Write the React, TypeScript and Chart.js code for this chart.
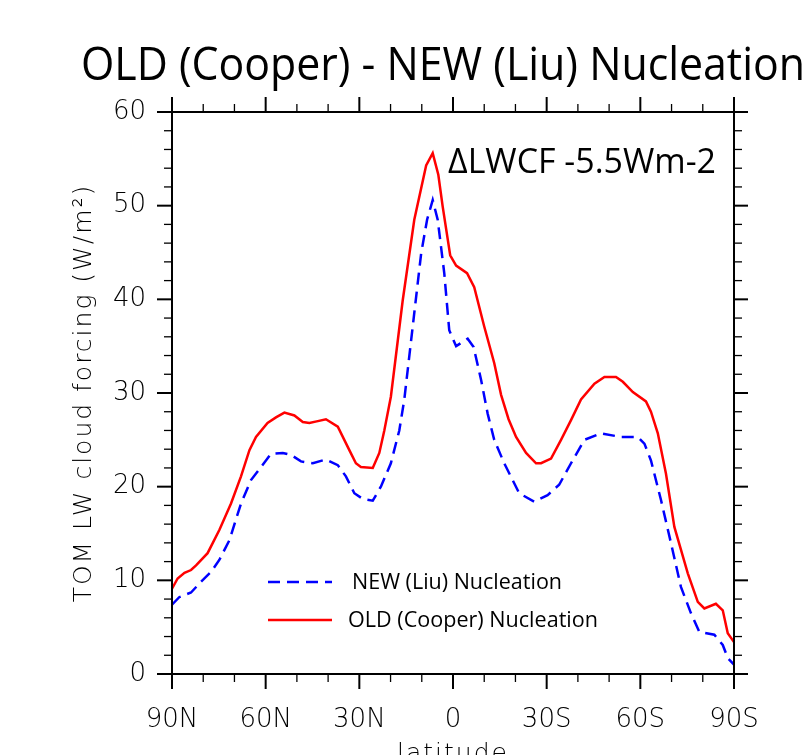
import { useEffect, useRef } from 'react';
import { Chart, registerables } from 'chart.js';

Chart.register(...registerables);

const titleText = 'OLD (Cooper) - NEW (Liu) Nucleation';
const annotationText = 'ΔLWCF -5.5Wm-2';
const yAxisTitle = 'TOM LW cloud forcing (W/m²)';
const xAxisTitle = 'latitude';
const newName = 'NEW (Liu) Nucleation';
const oldName = 'OLD (Cooper) Nucleation';

const xTickValues = [90, 60, 30, 0, -30, -60, -90];
const xTickLabels = ['90N', '60N', '30N', '0', '30S', '60S', '90S'];
const yTickValues = [0, 10, 20, 30, 40, 50, 60];

const oldLat = [90, 88.2, 86, 83.9, 82.3, 78.6, 74.8, 71.1, 67.9, 65.2, 63.1, 59.4, 56.7, 54.0, 50.8, 48.1, 46.0, 43.3, 40.7, 36.9, 33.2, 31.1, 29.5, 25.7, 23.6, 22.0, 19.9, 16.1, 12.4, 8.6, 6.5, 4.7, 3.3, 0.9, -1.0, -4.5, -6.8, -10.0, -13.2, -15.4, -17.8, -20.2, -23.4, -26.6, -28.2, -31.4, -34.6, -37.8, -41.0, -45.3, -48.5, -52.2, -54.4, -57.6, -61.8, -63.4, -65.6, -68.2, -70.9, -75.2, -78.4, -80.5, -84.2, -86.4, -88.0, -90];
const oldVal = [9.1, 10.2, 10.8, 11.1, 11.6, 12.9, 15.4, 18.2, 21.1, 23.9, 25.3, 26.8, 27.4, 27.9, 27.6, 26.9, 26.8, 27.0, 27.2, 26.4, 23.9, 22.5, 22.1, 22.0, 23.6, 26.0, 29.6, 39.9, 48.5, 54.3, 55.6, 53.3, 49.9, 44.7, 43.6, 42.8, 41.3, 37.1, 33.2, 29.8, 27.2, 25.3, 23.6, 22.5, 22.5, 23.0, 25.0, 27.1, 29.3, 31.0, 31.7, 31.7, 31.2, 30.1, 29.1, 28.0, 25.7, 21.4, 15.7, 10.75, 7.7, 7.0, 7.5, 6.8, 4.35, 3.4];

const newLat = [90, 87.7, 83.9, 80.7, 77.5, 74.8, 71.6, 67.9, 64.7, 61.5, 58.3, 54.5, 51.9, 48.7, 44.9, 40.7, 36.9, 34.3, 31.6, 28.9, 25.7, 23.1, 19.9, 17.2, 15.6, 12.9, 10.2, 8.3, 6.5, 4.9, 2.8, 1.2, -1.0, -4.7, -6.6, -9.0, -11.1, -13.2, -16.4, -21.2, -26.0, -30.3, -34.0, -37.8, -42.1, -47.4, -53.8, -59.2, -61.3, -63.4, -66.6, -69.8, -73.0, -76.2, -78.9, -83.7, -86.4, -88.0, -90];
const newVal = [7.4, 8.2, 8.7, 9.85, 10.9, 12.2, 14.3, 18.2, 20.7, 22.1, 23.5, 23.6, 23.4, 22.7, 22.5, 22.9, 22.3, 21.1, 19.3, 18.7, 18.5, 20.0, 22.5, 26.0, 29.3, 37.1, 44.9, 48.5, 50.6, 48.5, 42.8, 36.7, 35.0, 35.8, 34.9, 31.4, 27.8, 25.0, 22.5, 19.3, 18.4, 19.1, 20.2, 22.5, 25.0, 25.7, 25.3, 25.3, 24.6, 22.8, 18.6, 14.0, 9.3, 6.5, 4.5, 4.2, 3.1, 1.7, 1.0];

const TICK_FAMILY = '"DejaVu Sans"';
const TEXT_FAMILY = '"Open Sans"';

const framePlugin = {
  id: 'frameAndText',
  afterDraw(chart: any) {
    const { ctx, chartArea: a, scales } = chart;
    const xs = scales.x;
    const ys = scales.y;
    const line = (x1: number, y1: number, x2: number, y2: number) => {
      ctx.beginPath();
      ctx.moveTo(x1, y1);
      ctx.lineTo(x2, y2);
      ctx.stroke();
    };
    ctx.save();
    ctx.strokeStyle = '#000';
    ctx.lineCap = 'butt';
    // minor ticks
    ctx.lineWidth = 1.3;
    for (let v = -90; v <= 90; v += 10) {
      if (v % 30 === 0) continue;
      const px = xs.getPixelForValue(v);
      line(px, a.bottom, px, a.bottom + 8);
      line(px, a.top, px, a.top - 8);
    }
    for (let v = 0; v <= 60; v += 2) {
      if (v % 10 === 0) continue;
      const py = ys.getPixelForValue(v);
      line(a.left - 8, py, a.left, py);
      line(a.right, py, a.right + 8, py);
    }
    // major ticks
    ctx.lineWidth = 2;
    for (const v of xTickValues) {
      const px = xs.getPixelForValue(v);
      line(px, a.bottom, px, a.bottom + 15);
      line(px, a.top, px, a.top - 15);
    }
    for (const v of yTickValues) {
      const py = ys.getPixelForValue(v);
      line(a.left - 15, py, a.left, py);
      line(a.right, py, a.right + 14, py);
    }
    ctx.strokeRect(a.left, a.top, a.right - a.left, a.bottom - a.top);

    // title
    ctx.fillStyle = '#000';
    ctx.font = `46px ${TEXT_FAMILY}`;
    ctx.textAlign = 'center';
    ctx.textBaseline = 'alphabetic';
    ctx.fillText(titleText, 443, 80, 724);

    // annotation
    ctx.font = `34px ${TEXT_FAMILY}`;
    ctx.textAlign = 'left';
    ctx.fillText(annotationText, 448, 173, 268);

    // legend
    ctx.font = `22px ${TEXT_FAMILY}`;
    ctx.textBaseline = 'middle';
    ctx.lineWidth = 2.5;
    ctx.strokeStyle = '#0000ff';
    ctx.setLineDash([12, 7]);
    line(268, 582, 332, 582);
    ctx.setLineDash([]);
    ctx.strokeStyle = '#ff0000';
    line(268, 620, 332, 620);
    ctx.fillText(newName, 352, 583, 210);
    ctx.fillText(oldName, 348, 621, 250);

    // y axis title
    ctx.save();
    ctx.translate(84, (a.top + a.bottom) / 2);
    ctx.rotate(-Math.PI / 2);
    ctx.font = `200 25px ${TICK_FAMILY}`;
    (ctx as any).letterSpacing = '2px';
    ctx.textAlign = 'center';
    ctx.textBaseline = 'middle';
    ctx.fillText(yAxisTitle, 0, 0);
    ctx.restore();

    // x axis title
    ctx.font = `200 25px ${TICK_FAMILY}`;
    (ctx as any).letterSpacing = '2px';
    ctx.textAlign = 'center';
    ctx.textBaseline = 'top';
    ctx.fillText(xAxisTitle, (a.left + a.right) / 2, 742);
    ctx.restore();
  },
};

export default function App() {
  const ref = useRef<HTMLCanvasElement | null>(null);
  useEffect(() => {
    const canvas = ref.current;
    if (!canvas) return;
    const tickFont = { family: TICK_FAMILY, size: 26, weight: '200' as any };
    const chart = new Chart(canvas, {
      type: 'line',
      data: {
        datasets: [
          {
            label: newName,
            data: newLat.map((x, i) => ({ x, y: newVal[i] })),
            borderColor: '#0000ff',
            borderWidth: 2.5,
            borderDash: [12, 7],
            pointRadius: 0,
            tension: 0,
            fill: false,
          },
          {
            label: oldName,
            data: oldLat.map((x, i) => ({ x, y: oldVal[i] })),
            borderColor: '#ff0000',
            borderWidth: 2.5,
            pointRadius: 0,
            tension: 0,
            fill: false,
          },
        ],
      },
      options: {
        responsive: false,
        animation: false,
        devicePixelRatio: 1,
        layout: { padding: 0 },
        plugins: {
          legend: { display: false },
          title: { display: false },
          tooltip: { enabled: false },
        },
        scales: {
          x: {
            type: 'linear',
            position: 'bottom',
            min: -90,
            max: 90,
            reverse: true,
            afterBuildTicks: (s: any) => {
              s.ticks = xTickValues.map((v) => ({ value: v }));
            },
            ticks: {
              callback: (v: any) => xTickLabels[xTickValues.indexOf(Number(v))],
              font: tickFont,
              color: '#000',
              padding: 31,
              maxRotation: 0,
              autoSkip: false,
            },
            grid: { display: false, drawTicks: false },
            border: { display: false },
            afterFit: (s: any) => {
              s.height = 81;
            },
          },
          y: {
            type: 'linear',
            position: 'left',
            min: 0,
            max: 60,
            afterBuildTicks: (s: any) => {
              s.ticks = yTickValues.map((v) => ({ value: v }));
            },
            ticks: {
              font: tickFont,
              color: '#000',
              padding: 26,
            },
            grid: { display: false, drawTicks: false },
            border: { display: false },
            afterFit: (s: any) => {
              s.width = 172;
            },
          },
          x2: {
            type: 'linear',
            position: 'top',
            min: -90,
            max: 90,
            reverse: true,
            ticks: { display: false },
            grid: { display: false, drawTicks: false },
            border: { display: false },
            afterFit: (s: any) => {
              s.height = 112;
            },
          },
          y2: {
            type: 'linear',
            position: 'right',
            min: 0,
            max: 60,
            ticks: { display: false },
            grid: { display: false, drawTicks: false },
            border: { display: false },
            afterFit: (s: any) => {
              s.width = 77;
            },
          },
        },
      },
      plugins: [framePlugin],
    });
    return () => chart.destroy();
  }, []);
  return (
    <div style={{ position: 'fixed', left: 0, top: 0, width: 811, height: 755, overflow: 'hidden', background: '#fff' }}>
      <canvas ref={ref} width={811} height={755} style={{ display: 'block' }} />
    </div>
  );
}
